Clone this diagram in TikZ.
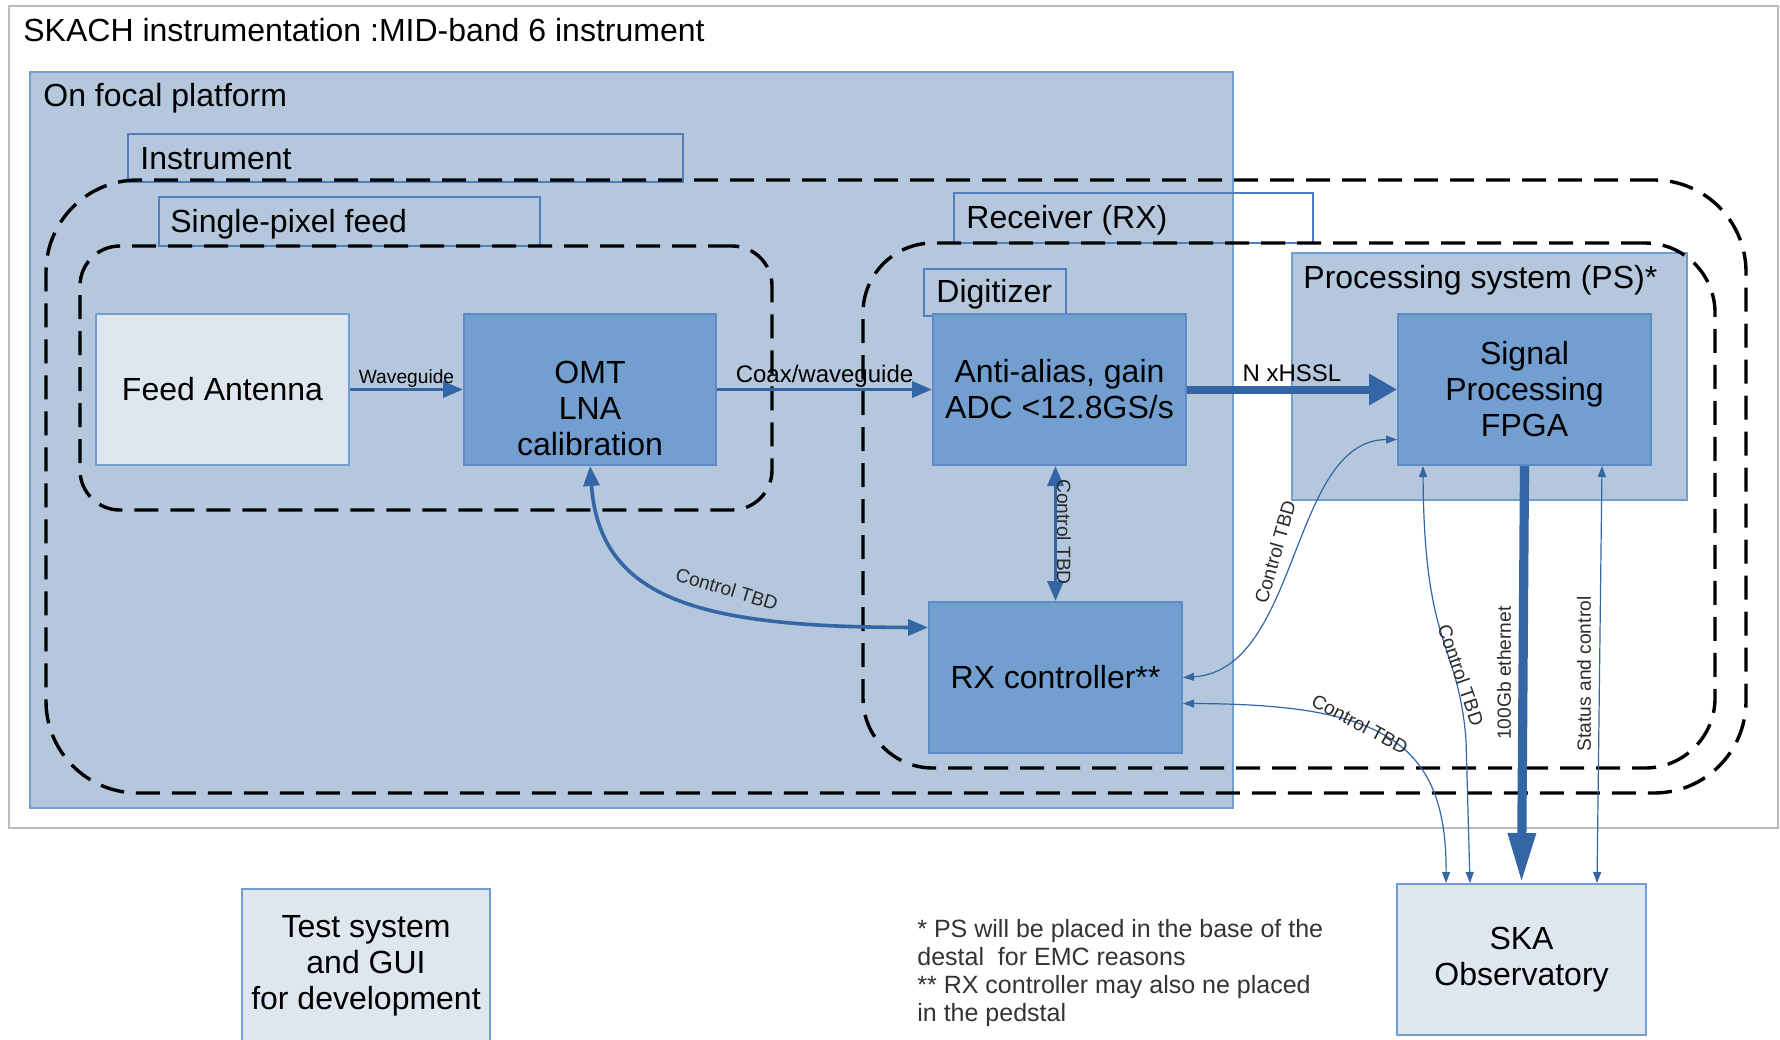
\documentclass[tikz,border=0pt]{standalone}
\usepackage{fontspec}
\setmainfont{Liberation Sans}
\usetikzlibrary{arrows.meta,fit}

\definecolor{platformfill}{HTML}{B4C7DC}
\definecolor{platformline}{HTML}{729FCF}
\definecolor{paleblock}{HTML}{DEE6EF}
\definecolor{midblock}{HTML}{729FCF}
\definecolor{blockline}{HTML}{5E8BC6}
\definecolor{tagline}{HTML}{4F7FBF}
\definecolor{linkblue}{HTML}{3465A4}
\definecolor{framegray}{HTML}{BBBBBB}
\definecolor{notegray}{HTML}{333333}
\definecolor{labelink}{HTML}{2A2A2A}

\begin{document}
\begin{tikzpicture}[
  x=0.5pt, y=-0.5pt,
  txtbig/.style={font=\fontsize{16pt}{18pt}\selectfont},
  txtmid/.style={font=\fontsize{12pt}{14pt}\selectfont},
  txtsmall/.style={font=\fontsize{9.6pt}{11pt}\selectfont, text=labelink},
  blocktext/.style={txtbig, align=center, inner sep=0pt},
  outerframe/.style={draw=framegray, line width=1pt, inner sep=0pt},
  platform/.style={draw=platformline, fill=platformfill, line width=0.8pt, inner sep=0pt},
  paleblk/.style={draw=platformline, fill=paleblock, line width=1pt, inner sep=0pt},
  midblk/.style={draw=blockline, fill=midblock, line width=1pt, inner sep=0pt},
  tagbox/.style={draw=tagline, line width=0.8pt, inner sep=0pt},
  tagtext/.style={txtbig, anchor=west, inner sep=0pt},
  grp/.style={draw=black, line width=1.7pt, dash pattern=on 12pt off 6pt, inner sep=0pt},
  medlink/.style={draw=linkblue, line width=1.8pt},
  biglink/.style={draw=linkblue, line width=4pt},
  fatlink/.style={draw=linkblue, line width=4.6pt},
  thinlink/.style={draw=linkblue, line width=0.6pt},
  medhead/.tip={Triangle[length=10pt,width=8pt]},
  thinhead/.tip={Triangle[length=5.5pt,width=4pt]},
  notetext/.style={font=\fontsize{12.5pt}{14pt}\selectfont, text=notegray, align=left, inner sep=0pt}
]
\useasboundingbox (0,0) rectangle (1780,1039);

% outer frame and platform area
\node[outerframe, fit={(9,6) (1778,828)}] (frame) {};
\node[tagtext] (title) at (23,30) {SKACH instrumentation :MID-band 6 instrument};
\node[platform, fit={(30,72) (1233,808)}] (platform) {};
\node[tagtext] (platformText) at (43,98) {On focal platform};

% processing system enclosure
\node[platform, fit={(1292,253) (1687,500)}] (psbox) {};
\node[tagtext] (psText) at (1303,280) {Processing system (PS)*};

% group tags
\node[tagbox, fit={(128,134) (683,182)}] (instrTag) {};
\node[tagtext] (instrText) at (140,159) {Instrument};
\node[tagbox, fit={(159,197) (540,246)}] (feedTag) {};
\node[tagtext] (feedTagText) at (170,224) {Single-pixel feed};
\node[tagbox, fit={(954,193) (1313,243)}] (rxTag) {};
\node[tagtext] (rxTagText) at (966,220) {Receiver (RX)};
\node[tagbox, fit={(924,269) (1066,316)}] (digTag) {};
\node[tagtext] (digTagText) at (936,294) {Digitizer};

% dashed groupings
\node[grp, rounded corners=46pt, fit={(46,180) (1746,793)}] (instrGrp) {};
\node[grp, rounded corners=20pt, fit={(80,246) (772,510)}] (feedGrp) {};
\node[grp, rounded corners=35pt, fit={(863,243) (1715,768)}] (rxGrp) {};

% blocks
\node[paleblk, fit={(96,314) (349,465)}] (feed) {};
\node[blocktext] (feedText) at (feed.center) {Feed Antenna};
\node[midblk, fit={(464,314) (716,465)}] (omt) {};
\node[blocktext] (omtText) at (590,408) {OMT\\LNA\\calibration};
\node[midblk, fit={(933,314) (1186,465)}] (aa) {};
\node[blocktext] (aaText) at (aa.center) {Anti-alias, gain\\ADC <12.8GS/s};
\node[midblk, fit={(1398,314) (1651,465)}] (fpga) {};
\node[blocktext] (fpgaText) at (fpga.center) {Signal\\Processing\\FPGA};
\node[midblk, fit={(929,602) (1182,753)}] (rxc) {};
\node[blocktext] (rxcText) at (rxc.center) {RX controller**};
\node[paleblk, fit={(1397,884) (1646,1035)}] (ska) {};
\node[blocktext] (skaText) at (ska.center) {SKA\\Observatory};
\node[paleblk, fit={(242,889) (490,1045)}] (testsys) {};
\node[blocktext] (testText) at (366,966) {Test system\\and GUI\\for development};

\node[notetext, anchor=west] (note) at (917,973) {* PS will be placed in the base of the\\destal\ \ for EMC reasons\\** RX controller may also ne placed\\in the pedstal};

% signal chain
\draw[medlink, -medhead] (feed) -- (omt)
  node[midway, anchor=south, inner sep=0pt, font=\fontsize{9.6pt}{11pt}\selectfont] (wgLbl) {Waveguide};
\draw[medlink, -medhead] (omt) -- (aa)
  node[midway, anchor=south, inner sep=0pt, txtmid] (coaxLbl) {Coax/waveguide};
\draw[biglink, -{Triangle[length=14pt,width=15pt]}] (aa) -- (fpga)
  node[midway, anchor=south, inner sep=0pt, yshift=2pt, txtmid] (hsslLbl) {N xHSSL};

% control links inside the platform
\draw[medlink, medhead-medhead] (omt.south) .. controls (600,600) and (700,627) .. ([yshift=25pt]rxc.west);
\node[txtsmall, rotate=-17] (ctlOmtLbl) at (727,589) {Control TBD};
\draw[medlink, medhead-medhead] (aa.south -| rxc.north) -- (rxc.north);
\node[txtsmall, rotate=-90] (ctlAaLbl) at (1064,532) {Control TBD};

% thin control links
\draw[thinlink, thinhead-thinhead] (rxc.east) .. controls (1300,670) and (1290,440) .. ([yshift=-25pt]fpga.west);
\node[txtsmall, rotate=74] (ctlPsLbl) at (1275,552) {Control TBD};
\draw[thinlink, thinhead-thinhead] ([yshift=-13pt]rxc.east) .. controls (1380,704) and (1447,740) .. ([xshift=25pt]ska.north west);
\node[txtsmall, rotate=-28] (ctlSkaLbl) at (1360,724) {Control TBD};
\draw[thinlink, thinhead-thinhead] ([xshift=13pt]fpga.south west) .. controls (1424,650) and (1458,640) .. (1466,740) -- ([xshift=37pt]ska.north west);
\node[txtsmall, rotate=-71] (ctlFpgaLbl) at (1461,675) {Control TBD};

% data and status to the observatory
\draw[fatlink, -{Triangle[length=25pt,width=13pt]}] (fpga.south) -- (ska.north);
\node[txtsmall, rotate=90] (ethLbl) at (1504,673) {100Gb ethernet};
\draw[thinlink, thinhead-thinhead] ([xshift=-25pt]fpga.south east) -- ([xshift=-25pt]ska.north east);
\node[txtsmall, rotate=90] (statusLbl) at (1584,674) {Status and control};
\end{tikzpicture}
\end{document}
